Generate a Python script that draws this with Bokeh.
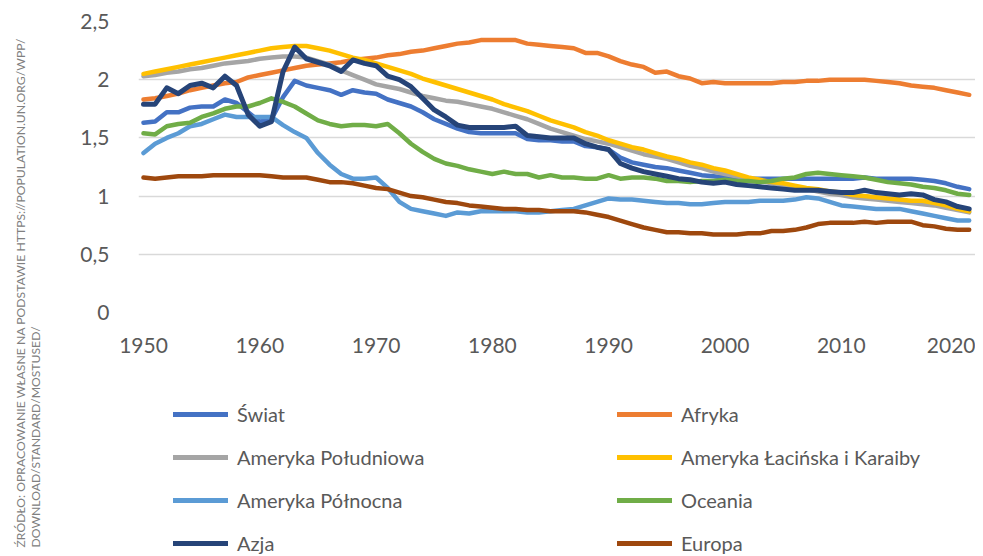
import math
from bokeh.plotting import figure
from bokeh.layouts import row, column
from bokeh.models import (Range1d, FixedTicker, CustomJSTickFormatter, Legend, LegendItem, Label)
from bokeh.embed import file_html
from bokeh.resources import INLINE

years = list(range(1950, 2022))

swiat = [1.63, 1.64, 1.72, 1.72, 1.76, 1.77, 1.77, 1.83, 1.80, 1.72,
         1.64, 1.66, 1.85, 1.99, 1.95, 1.93, 1.91, 1.87, 1.91, 1.89,
         1.88, 1.83, 1.80, 1.77, 1.72, 1.66, 1.62, 1.58, 1.55, 1.54,
         1.54, 1.54, 1.54, 1.49, 1.48, 1.48, 1.47, 1.47, 1.43, 1.42,
         1.40, 1.33, 1.29, 1.27, 1.25, 1.24, 1.22, 1.20, 1.18, 1.17,
         1.16, 1.15, 1.15, 1.15, 1.15, 1.15, 1.15, 1.15, 1.15, 1.15,
         1.15, 1.15, 1.16, 1.15, 1.15, 1.15, 1.15, 1.14, 1.13, 1.11,
         1.08, 1.06]
afryka = [1.83, 1.84, 1.86, 1.88, 1.91, 1.93, 1.95, 1.97, 1.98, 2.02,
          2.04, 2.06, 2.08, 2.10, 2.12, 2.13, 2.14, 2.15, 2.17, 2.18,
          2.19, 2.21, 2.22, 2.24, 2.25, 2.27, 2.29, 2.31, 2.32, 2.34,
          2.34, 2.34, 2.34, 2.31, 2.30, 2.29, 2.28, 2.27, 2.23, 2.23,
          2.20, 2.16, 2.13, 2.11, 2.06, 2.07, 2.03, 2.01, 1.97, 1.98,
          1.97, 1.97, 1.97, 1.97, 1.97, 1.98, 1.98, 1.99, 1.99, 2.00,
          2.00, 2.00, 2.00, 1.99, 1.98, 1.97, 1.95, 1.94, 1.93, 1.91,
          1.89, 1.87]
am_pld = [2.03, 2.04, 2.06, 2.07, 2.09, 2.10, 2.12, 2.14, 2.15, 2.16,
          2.18, 2.19, 2.20, 2.20, 2.19, 2.16, 2.13, 2.08, 2.04, 2.00,
          1.96, 1.94, 1.92, 1.89, 1.86, 1.84, 1.82, 1.81, 1.79, 1.77,
          1.75, 1.72, 1.69, 1.66, 1.62, 1.58, 1.55, 1.52, 1.49, 1.47,
          1.45, 1.42, 1.39, 1.36, 1.34, 1.32, 1.29, 1.26, 1.24, 1.21,
          1.19, 1.17, 1.15, 1.13, 1.11, 1.09, 1.07, 1.06, 1.04, 1.02,
          1.01, 0.99, 0.98, 0.97, 0.96, 0.95, 0.94, 0.93, 0.92, 0.90,
          0.88, 0.86]
am_lac = [2.05, 2.07, 2.09, 2.11, 2.13, 2.15, 2.17, 2.19, 2.21, 2.23,
          2.25, 2.27, 2.28, 2.29, 2.29, 2.27, 2.25, 2.22, 2.19, 2.17,
          2.14, 2.11, 2.08, 2.05, 2.01, 1.98, 1.95, 1.92, 1.89, 1.86,
          1.83, 1.79, 1.76, 1.73, 1.69, 1.65, 1.62, 1.59, 1.55, 1.52,
          1.48, 1.45, 1.42, 1.40, 1.37, 1.34, 1.32, 1.29, 1.27, 1.24,
          1.22, 1.19, 1.16, 1.14, 1.12, 1.11, 1.09, 1.07, 1.06, 1.04,
          1.03, 1.01, 1.00, 0.99, 0.98, 0.97, 0.96, 0.96, 0.94, 0.92,
          0.89, 0.87]
am_pln = [1.37, 1.45, 1.50, 1.54, 1.60, 1.62, 1.66, 1.70, 1.68, 1.68,
          1.68, 1.68, 1.61, 1.55, 1.50, 1.37, 1.27, 1.19, 1.15, 1.15,
          1.16, 1.07, 0.95, 0.89, 0.87, 0.85, 0.83, 0.86, 0.85, 0.87,
          0.87, 0.87, 0.87, 0.86, 0.86, 0.87, 0.88, 0.89, 0.92, 0.95,
          0.98, 0.97, 0.97, 0.96, 0.95, 0.94, 0.94, 0.93, 0.93, 0.94,
          0.95, 0.95, 0.95, 0.96, 0.96, 0.96, 0.97, 0.99, 0.98, 0.95,
          0.92, 0.91, 0.90, 0.89, 0.89, 0.89, 0.87, 0.85, 0.83, 0.81,
          0.79, 0.79]
oceania = [1.54, 1.53, 1.60, 1.62, 1.63, 1.68, 1.71, 1.75, 1.77, 1.77,
           1.80, 1.84, 1.81, 1.77, 1.71, 1.65, 1.62, 1.60, 1.61, 1.61,
           1.60, 1.62, 1.54, 1.45, 1.38, 1.32, 1.28, 1.26, 1.23, 1.21,
           1.19, 1.21, 1.19, 1.19, 1.16, 1.18, 1.16, 1.16, 1.15, 1.15,
           1.18, 1.15, 1.16, 1.16, 1.15, 1.13, 1.13, 1.12, 1.13, 1.13,
           1.14, 1.13, 1.13, 1.12, 1.13, 1.15, 1.16, 1.19, 1.20, 1.19,
           1.18, 1.17, 1.16, 1.14, 1.12, 1.11, 1.10, 1.08, 1.07, 1.05,
           1.02, 1.01]
azja = [1.79, 1.79, 1.93, 1.88, 1.95, 1.97, 1.93, 2.03, 1.95, 1.70,
        1.60, 1.64, 2.07, 2.28, 2.18, 2.15, 2.12, 2.07, 2.17, 2.14,
        2.12, 2.03, 2.00, 1.94, 1.84, 1.74, 1.68, 1.61, 1.59, 1.59,
        1.59, 1.59, 1.60, 1.52, 1.51, 1.50, 1.50, 1.50, 1.45, 1.42,
        1.40, 1.28, 1.24, 1.21, 1.19, 1.17, 1.15, 1.14, 1.12, 1.11,
        1.12, 1.10, 1.09, 1.08, 1.07, 1.06, 1.05, 1.05, 1.05, 1.04,
        1.03, 1.03, 1.05, 1.03, 1.02, 1.01, 1.02, 1.01, 0.97, 0.95,
        0.91, 0.89]
europa = [1.16, 1.15, 1.16, 1.17, 1.17, 1.17, 1.18, 1.18, 1.18, 1.18,
          1.18, 1.17, 1.16, 1.16, 1.16, 1.14, 1.12, 1.12, 1.11, 1.09,
          1.07, 1.06, 1.03, 1.00, 0.99, 0.97, 0.95, 0.94, 0.92, 0.91,
          0.90, 0.89, 0.89, 0.88, 0.88, 0.87, 0.87, 0.87, 0.86, 0.84,
          0.82, 0.79, 0.76, 0.73, 0.71, 0.69, 0.69, 0.68, 0.68, 0.67,
          0.67, 0.67, 0.68, 0.68, 0.70, 0.70, 0.71, 0.73, 0.76, 0.77,
          0.77, 0.77, 0.78, 0.77, 0.78, 0.78, 0.78, 0.75, 0.74, 0.72,
          0.71, 0.71]

series_names = ["Świat", "Afryka", "Ameryka Południowa", "Ameryka Łacińska i Karaiby",
                "Ameryka Północna", "Oceania", "Azja", "Europa"]
series_values = [swiat, afryka, am_pld, am_lac, am_pln, oceania, azja, europa]
series_colors = ["#4472C4", "#ED7D31", "#A5A5A5", "#FFC000",
                 "#5B9BD5", "#70AD47", "#264478", "#9E480E"]
series_widths = [4.5, 4.5, 4.5, 4.5, 4.5, 4.5, 5, 4.5]

x_ticks = [1950, 1960, 1970, 1980, 1990, 2000, 2010, 2020]
y_ticks = [0, 0.5, 1, 1.5, 2, 2.5]

source_text = ("ŹRÓDŁO: OPRACOWANIE WŁASNE NA PODSTAWIE HTTPS://POPULATION.UN.ORG/WPP/\n"
               "DOWNLOAD/STANDARD/MOSTUSED/")

FONT = "Lato"
TXT = "#595959"


def blank(width, height):
    f = figure(width=width, height=height, output_backend="svg", toolbar_location=None,
               x_range=Range1d(0, 1), y_range=Range1d(0, 1),
               min_border=0, min_border_left=0, min_border_right=0,
               min_border_top=0, min_border_bottom=0)
    f.axis.visible = False
    f.grid.visible = False
    f.outline_line_color = None
    return f


# ---- main chart ----
p = figure(width=925, height=380, output_backend="svg", toolbar_location=None,
           x_range=Range1d(1949.57, 2021.54), y_range=Range1d(0, 2.5),
           min_border_left=88, min_border_right=0, min_border_top=21,
           min_border_bottom=68)
p.outline_line_color = None

p.xgrid.grid_line_color = None
p.ygrid.grid_line_color = "#D9D9D9"
p.ygrid.grid_line_width = 1.5
p.ygrid.ticker = FixedTicker(ticks=y_ticks)

for ax in (p.xaxis[0], p.yaxis[0]):
    ax.axis_line_color = None
    ax.major_tick_line_color = None
    ax.minor_tick_line_color = None
    ax.major_label_text_font = FONT
    ax.major_label_text_font_size = "21px"
    ax.major_label_text_color = TXT

p.xaxis.ticker = FixedTicker(ticks=x_ticks)
p.xaxis.major_label_standoff = 19
p.yaxis.ticker = FixedTicker(ticks=y_ticks)
p.yaxis.major_label_standoff = 23
p.yaxis.formatter = CustomJSTickFormatter(code="return String(tick).replace('.', ',');")

for name, vals, col, w in zip(series_names, series_values, series_colors, series_widths):
    p.line(years, vals, line_color=col, line_width=w, line_join="round", line_cap="round")

# ---- legend panel (proxy renderers hold a single NaN so nothing is drawn in the panel) ----
lf = blank(925, 175)
nan = float("nan")
leg_renderers = []
for col in series_colors:
    leg_renderers.append(lf.line(x=[nan], y=[nan], line_color=col, line_width=5, line_cap="round"))


def make_legend(idx, loc):
    leg = Legend(items=[LegendItem(label=series_names[i], renderers=[leg_renderers[i]]) for i in idx],
                 location=loc, orientation="vertical")
    leg.background_fill_alpha = 0
    leg.border_line_color = None
    leg.padding = 0
    leg.margin = 0
    leg.spacing = 19
    leg.glyph_width = 55
    leg.glyph_height = 24
    leg.label_height = 24
    leg.label_standoff = 9
    leg.label_text_font = FONT
    leg.label_text_font_size = "20px"
    leg.label_text_color = TXT
    return leg


lf.add_layout(make_legend([0, 2, 4, 6], (35, 0)))
lf.add_layout(make_legend([1, 3, 5, 7], (479, 0)))

# ---- source note panel ----
sf = blank(50, 555)
sf.add_layout(Label(x=12, y=8, x_units="screen", y_units="screen", text=source_text,
                    angle=math.pi / 2, text_align="left", text_baseline="top",
                    text_font=FONT, text_font_size="12.2px", text_color="#808080",
                    text_line_height=1.05))

layout = row(sf, column(p, lf))
open("out.html", "w").write(file_html(layout, INLINE))
